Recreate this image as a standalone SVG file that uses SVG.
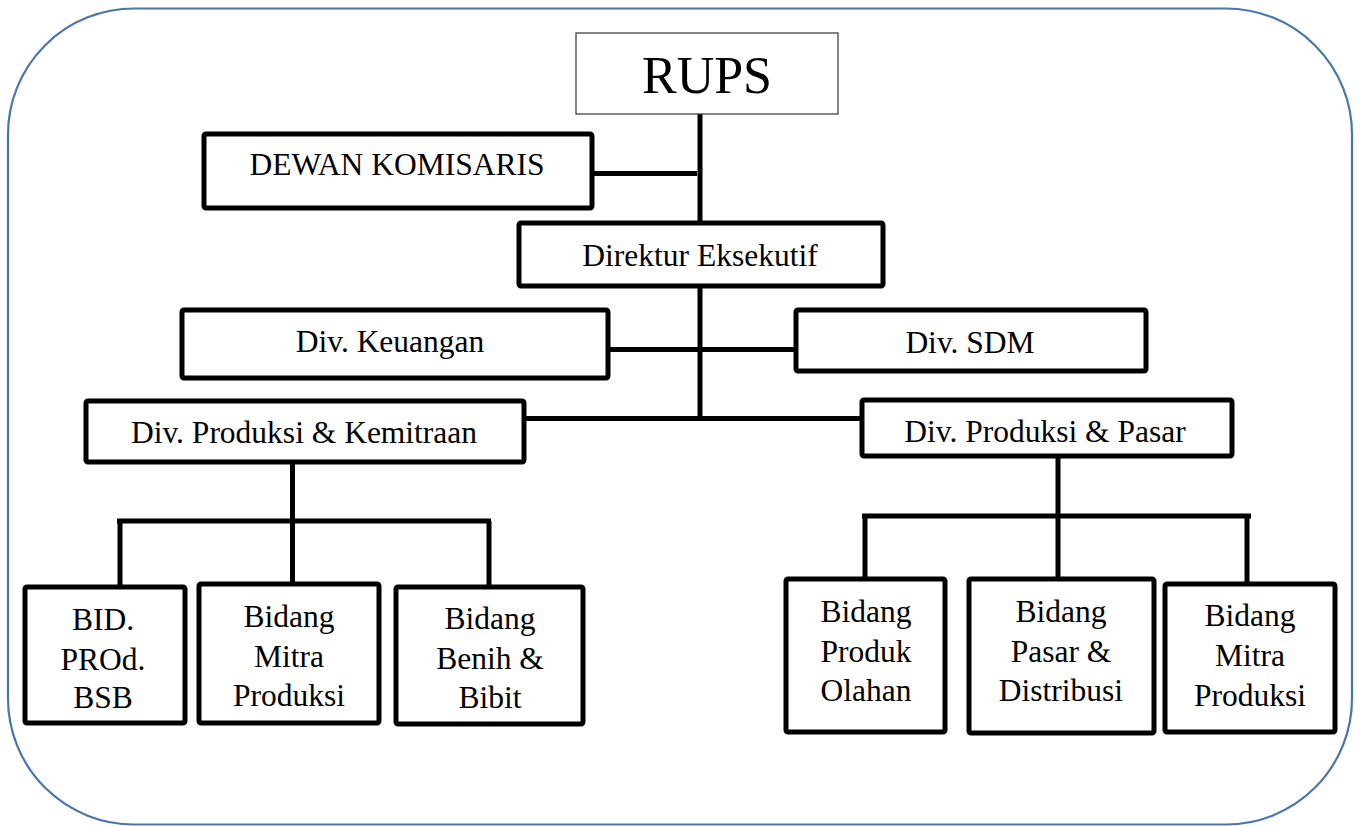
<svg xmlns="http://www.w3.org/2000/svg" width="1360" height="826" viewBox="0 0 1360 826">
<style>
.bg{fill:#ffffff}
.frame{fill:none;stroke:#4a76a8;stroke-width:2.2}
.box{fill:#ffffff;stroke:#000000;stroke-width:5;stroke-linejoin:round}
.thin{fill:#ffffff;stroke:#333333;stroke-width:1.2}
.ln{stroke:#000000;stroke-width:5;fill:none}
text{font-family:'Liberation Serif','Times New Roman','DejaVu Serif',serif;fill:#000000;text-anchor:middle;font-size:31.5px}
.big{font-size:52px}
</style>
<rect class="bg" x="0" y="0" width="1360" height="826"/>
<rect class="frame" x="8" y="8.5" width="1344" height="816" rx="126" ry="126"/>
<g id="connectors">
<line class="ln" x1="700" y1="114" x2="700" y2="421"/>
<line class="ln" x1="592" y1="173.5" x2="697" y2="173.5"/>
<line class="ln" x1="608" y1="349.5" x2="796" y2="349.5"/>
<line class="ln" x1="524" y1="418.5" x2="862" y2="418.5"/>
<line class="ln" x1="292.5" y1="462" x2="292.5" y2="584"/>
<line class="ln" x1="117" y1="521" x2="491" y2="521"/>
<line class="ln" x1="120" y1="521" x2="120" y2="587"/>
<line class="ln" x1="489" y1="521" x2="489" y2="587"/>
<line class="ln" x1="1058" y1="456" x2="1058" y2="579"/>
<line class="ln" x1="862" y1="516" x2="1251" y2="516"/>
<line class="ln" x1="865" y1="516" x2="865" y2="579"/>
<line class="ln" x1="1247" y1="516" x2="1247" y2="584"/>
</g>
<g id="rups">
<rect class="thin" x="576" y="33" width="262" height="81"/>
<text class="big" x="707" y="93" font-family="Liberation Serif">RUPS</text>
</g>
<g id="dewan-komisaris">
<rect class="box" x="204" y="134" width="388" height="74" rx="2"/>
<text x="397" y="175">DEWAN KOMISARIS</text>
</g>
<g id="direktur-eksekutif">
<rect class="box" x="519" y="223" width="364" height="63" rx="2"/>
<text x="700" y="266">Direktur Eksekutif</text>
</g>
<g id="div-keuangan">
<rect class="box" x="182" y="310" width="426" height="68" rx="2"/>
<text x="390" y="352">Div. Keuangan</text>
</g>
<g id="div-sdm">
<rect class="box" x="796" y="310" width="350" height="61" rx="2"/>
<text x="970" y="353">Div. SDM</text>
</g>
<g id="div-produksi-kemitraan">
<rect class="box" x="86" y="401" width="438" height="61" rx="2"/>
<text x="304" y="443">Div. Produksi &amp; Kemitraan</text>
</g>
<g id="div-produksi-pasar">
<rect class="box" x="862" y="400" width="370" height="56" rx="2"/>
<text x="1045" y="442">Div. Produksi &amp; Pasar</text>
</g>
<g id="bid-prod-bsb">
<rect class="box" x="25" y="587" width="160" height="136" rx="2"/>
<text x="103" y="630">BID.</text>
<text x="103" y="670">PROd.</text>
<text x="103" y="708">BSB</text>
</g>
<g id="bidang-mitra-produksi-1">
<rect class="box" x="199" y="584" width="180" height="139" rx="2"/>
<text x="289" y="627">Bidang</text>
<text x="289" y="667">Mitra</text>
<text x="289" y="706">Produksi</text>
</g>
<g id="bidang-benih-bibit">
<rect class="box" x="396" y="587" width="187" height="137" rx="2"/>
<text x="490" y="629">Bidang</text>
<text x="490" y="669">Benih &amp;</text>
<text x="490" y="708">Bibit</text>
</g>
<g id="bidang-produk-olahan">
<rect class="box" x="786" y="579" width="159" height="153" rx="2"/>
<text x="866" y="622">Bidang</text>
<text x="866" y="662">Produk</text>
<text x="866" y="701">Olahan</text>
</g>
<g id="bidang-pasar-distribusi">
<rect class="box" x="969" y="579" width="185" height="154" rx="2"/>
<text x="1061" y="622">Bidang</text>
<text x="1061" y="662">Pasar &amp;</text>
<text x="1061" y="701">Distribusi</text>
</g>
<g id="bidang-mitra-produksi-2">
<rect class="box" x="1165" y="584" width="170" height="148" rx="2"/>
<text x="1250" y="626">Bidang</text>
<text x="1250" y="666">Mitra</text>
<text x="1250" y="706">Produksi</text>
</g>
</svg>
